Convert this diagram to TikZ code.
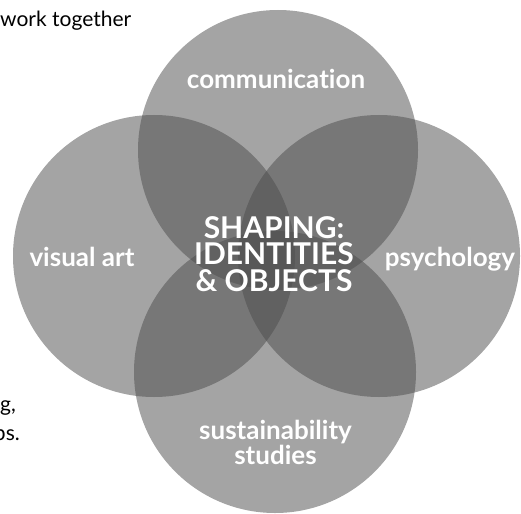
\documentclass[tikz,border=0pt]{standalone}
\usepackage{fontspec}
\setmainfont{Lato}[Ligatures=NoCommon]
\newfontfamily\labelfont{Lato}[UprightFont=* Bold,Ligatures=NoCommon]
\begin{document}
\begin{tikzpicture}[x=1pt,y=-1pt,
  disc/.style={fill=black!70,fill opacity=0.51,draw=none},
  field/.style={text=white,font=\labelfont\fontsize{26}{22}\selectfont,anchor=base,inner sep=0pt,align=center},
  core/.style={text=white,font=\labelfont\fontsize{30}{26.5}\selectfont,anchor=base,inner sep=0pt,align=center},
  note/.style={text=black,font=\fontsize{21}{24}\selectfont,anchor=base west,inner sep=0pt}]
\useasboundingbox (0,0) rectangle (521,513);
\begin{scope}
\clip (0,0) rectangle (521,513);
% four overlapping fields
\fill[disc] (278,150) circle (140);
\fill[disc] (154,256) circle (141);
\fill[disc] (379,256) circle (141);
\fill[disc] (275,372) circle (141);
% side notes
\node[note] (n1) at (0,27) {work together};
\node[note] (n2) at (0,411) {g,};
\node[note,anchor=base east] (n3) at (20,440) {ps.};
\end{scope}
% field labels (base anchor sits on the last line)
\node[field] (comm) at (276,89) {communication};
\node[field] (vis) at (82,266) {visual art};
\node[field] (psy) at (450,266) {psychology};
\node[field] (sus) at (275.5,464) {sustainability\\studies};
% central theme
\node[core] (core) at (274,291) {SHAPING:\\IDENTITIES\\\&~OBJECTS};
\end{tikzpicture}
\end{document}
